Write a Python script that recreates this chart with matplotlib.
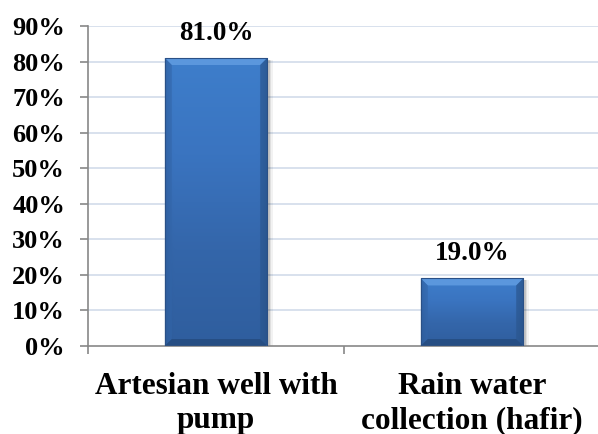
import numpy as np
import matplotlib
matplotlib.use("Agg")
import matplotlib.pyplot as plt
from matplotlib.patches import Rectangle, Polygon
from matplotlib.colors import LinearSegmentedColormap

categories = ["Artesian well with\npump", "Rain water\ncollection (hafir)"]
values = [81.0, 19.0]
y_ticks = [0, 10, 20, 30, 40, 50, 60, 70, 80, 90]
y_tick_labels = [f"{t}%" for t in y_ticks]

plt.rcParams["font.family"] = ["Liberation Serif", "DejaVu Serif"]
plt.rcParams["font.weight"] = "bold"

W, H, DPI = 598, 434, 100
fig = plt.figure(figsize=(W / DPI, H / DPI), dpi=DPI)
ax = fig.add_axes([88 / W, (H - 346) / H, 512 / W, 320 / H])

ax.set_xlim(-0.5, len(categories) - 0.5)
ax.set_ylim(0, 90)

axis_gray = "#878787"
grid_col = "#D6DEEC"

for t in y_ticks[1:]:
    ax.axhline(t, color=grid_col, lw=1.3, zorder=0)

bar_w = 0.4
body_cmap = LinearSegmentedColormap.from_list(
    "body", ["#2F5E9E", "#3466AA", "#3A74C0", "#3E7ECB"])

px_x = 512 / 2.0  # pixels per x unit
px_y = 320 / 90.0  # pixels per y unit

for i, v in enumerate(values):
    x0 = i - bar_w / 2
    x1 = i + bar_w / 2
    # soft shadow
    for k, a in zip([5, 3, 1.5], [0.05, 0.08, 0.12]):
        ax.add_patch(Rectangle((x0 + 1 / px_x, -k / px_y), bar_w + k / px_x,
                               v + k / px_y - 2 / px_y, facecolor="black",
                               alpha=a, lw=0, zorder=1))
    # body with vertical shading, darker near the side edges
    nx, ny = 64, 128
    hx = np.linspace(0, 1, nx)[None, :]
    vy = np.linspace(0, 1, ny)[:, None]
    img = body_cmap(np.clip(vy * np.ones_like(hx), 0, 1))
    edge = 1 - 0.12 * np.exp(-((hx - 0) / 0.04) ** 2) - 0.15 * np.exp(-((hx - 1) / 0.04) ** 2)
    img[..., :3] *= edge[..., None]
    ax.imshow(img, extent=(x0, x1, 0, v), origin="lower", aspect="auto",
              zorder=2, interpolation="bilinear")
    bx = 7 / px_x
    by = 7 / px_y
    # bevel: top, sides, bottom
    ax.add_patch(Polygon([(x0, v), (x1, v), (x1 - bx, v - by), (x0 + bx, v - by)],
                         closed=True, facecolor="#5D99DF", lw=0, zorder=3, alpha=0.95))
    ax.add_patch(Polygon([(x0, v), (x0 + bx, v - by), (x0 + bx, by), (x0, 0)],
                         closed=True, facecolor="#3366AA", lw=0, zorder=3, alpha=0.6))
    ax.add_patch(Polygon([(x1, v), (x1 - bx, v - by), (x1 - bx, by), (x1, 0)],
                         closed=True, facecolor="#2B5790", lw=0, zorder=3, alpha=0.7))
    ax.add_patch(Polygon([(x0, 0), (x0 + bx, by), (x1 - bx, by), (x1, 0)],
                         closed=True, facecolor="#254C80", lw=0, zorder=3, alpha=0.85))
    ax.add_patch(Rectangle((x0, 0), bar_w, v, facecolor="none",
                           edgecolor="#2A5086", lw=0.8, zorder=4))
    ax.annotate(f"{v:.1f}%", xy=(i, v), xytext=(0, 18), textcoords="offset points",
                ha="center", va="center", fontsize=19.5, fontweight="bold",
                color="black", zorder=5)

ax.set_yticks(y_ticks)
ax.set_yticklabels(y_tick_labels)
ax.set_xticks([-0.5, 0.5, 1.5])
ax.set_xticklabels([])
ax.tick_params(axis="y", direction="out", length=6, width=1.2, color=axis_gray,
               labelsize=19, pad=10.5)
ax.tick_params(axis="x", direction="out", length=6, width=1.2, color=axis_gray)
for i, c in enumerate(categories):
    ax.annotate(c, xy=(i, 0), xytext=(0, -19), textcoords="offset points",
                ha="center", va="top", fontsize=22.5, fontweight="bold",
                linespacing=1.2, annotation_clip=False)

for s in ["top", "right"]:
    ax.spines[s].set_visible(False)
ax.spines["left"].set_color(axis_gray)
ax.spines["bottom"].set_color(axis_gray)
ax.spines["left"].set_linewidth(1.2)
ax.spines["bottom"].set_linewidth(1.2)

fig.savefig("out.png", dpi=DPI)
